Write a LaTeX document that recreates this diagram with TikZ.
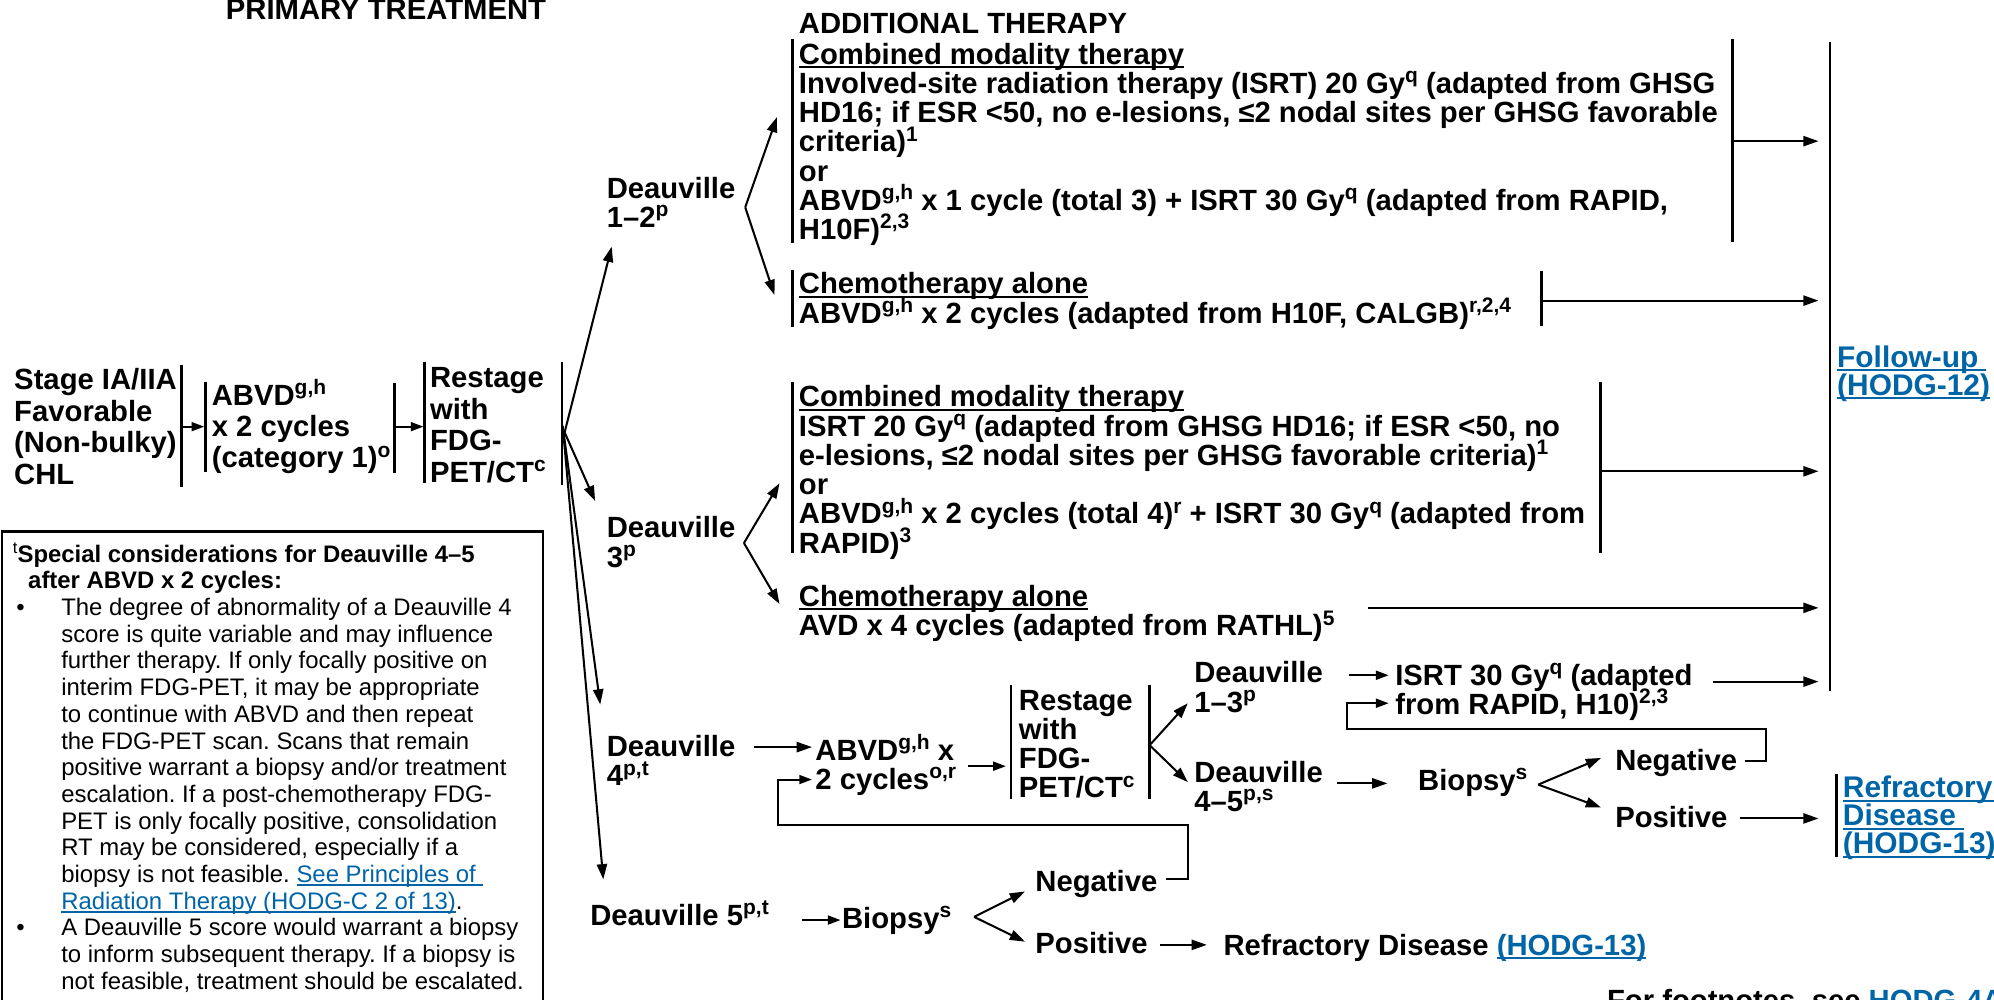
\documentclass[tikz,border=0pt]{standalone}
\usepackage{fontspec}
\setmainfont{Liberation Sans}
\usetikzlibrary{arrows.meta}
\definecolor{nccnblue}{RGB}{0,101,166}
\newcommand{\su}[1]{\raisebox{8.5pt}{\fontsize{16.5}{16.5}\selectfont #1}}
\newcommand{\sus}[1]{\raisebox{7pt}{\fontsize{13}{13}\selectfont #1}}
\newcommand{\undl}[1]{\setbox0\hbox{#1}\rlap{\rule[-3pt]{\wd0}{1.6pt}}\box0}
\newcommand{\lnk}[1]{{\color{nccnblue}\undl{#1}}}
\newcommand{\mfnt}{\fontsize{23}{23}\selectfont\bfseries\lineskiplimit=-100pt\relax}
\newcommand{\mfntw}{\fontsize{23}{24.7}\selectfont\bfseries\lineskiplimit=-100pt\relax}
\newcommand{\mfntr}{\fontsize{23.5}{22}\selectfont\bfseries\lineskiplimit=-100pt\relax}
\newcommand{\ffnt}{\fontsize{18.8}{21}\selectfont\lineskiplimit=-100pt\relax}
\newcommand{\ffntb}{\fontsize{18.8}{21}\selectfont\bfseries\lineskiplimit=-100pt\relax}
\frenchspacing
% multi-line nodes: the base anchor sits on the LAST line's baseline
\tikzset{
  txt/.style={anchor=base west, inner sep=0pt, align=left, font=\mfnt},
  txtw/.style={txt, font=\mfntw},
  fnt/.style={anchor=base west, inner sep=0pt, align=left, font=\ffnt},
  bar/.style={line width=2.2pt},
  con/.style={line width=1.6pt},
  arr/.style={con, -{Triangle[length=12pt,width=8pt]}},
  sarr/.style={con, -{Triangle[length=10pt,width=7pt]}},
}
\begin{document}
\begin{tikzpicture}[x=1pt,y=-1pt]
\useasboundingbox (0,0) rectangle (1568,786);
% ---------- headings ----------
\node[txt, anchor=base] (title) at (303.5,15.5) {PRIMARY TREATMENT};
\node[txt] (addl) at (628,26) {ADDITIONAL THERAPY};
% ---------- primary treatment ----------
\node[txtw] (stage) at (11,380.6) {Stage IA/IIA\\Favorable\\(Non-bulky)\\CHL};
\node[txtw] (abvd1) at (166.4,367.9) {ABVD\su{g,h}\\x 2 cycles\\(category 1)\su{o}};
\node[txtw] (rest1) at (338,379.1) {Restage\\with\\FDG-\\PET/CT\su{c}};
\draw[bar] (143,287) -- (143,383);
\draw[bar] (161.6,300) -- (161.6,371);
\draw[bar] (310.5,301) -- (310.5,372);
\draw[bar] (334,285) -- (334,380);
\draw[bar] (442,285) -- (442,381.5);
\coordinate (s1) at (143,335.5);   \coordinate (e1) at (160.6,335.5);
\coordinate (s2) at (310.5,335.5); \coordinate (e2) at (333,335.5);
\draw[sarr] (s1) -- (e1);
\draw[sarr] (s2) -- (e2);
% ---------- Deauville nodes ----------
\node[txt] (d12) at (477,179) {Deauville\\1–2\su{p}};
\node[txt] (d3) at (477,446) {Deauville\\3\su{p}};
\node[txt] (d4) at (477,618) {Deauville\\4\su{p,t}};
\node[txt] (d5) at (464,727.5) {Deauville 5\su{p,t}};
\coordinate (fanA) at (444,340);
\coordinate (fanB) at (442.5,335);
\coordinate (t12) at (481,194);
\coordinate (t3) at (468,394);
\coordinate (t4) at (472,554);
\coordinate (t5) at (474.4,691.5);
\draw[arr] (fanA) -- (t12);
\draw[arr] (fanA) -- (t3);
\draw[arr] (fanB) -- (t4);
\draw[arr] (fanB) -- (t5);
% ---------- Additional therapy, Deauville 1-2 ----------
\node[txt] (cmt1) at (628,188.5) {\undl{Combined modality therapy}\\Involved-site radiation therapy (ISRT) 20 Gy\su{q} (adapted from GHSG\\HD16; if ESR <50, no e-lesions, ≤2 nodal sites per GHSG favorable\\criteria)\su{1}\\or\\ABVD\su{g,h} x 1 cycle (total 3) + ISRT 30 Gy\su{q} (adapted from RAPID,\\H10F)\su{2,3}};
\node[txt] (chemo1) at (628,254) {\undl{Chemotherapy alone}\\ABVD\su{g,h} x 2 cycles (adapted from H10F, CALGB)\su{r,2,4}};
\draw[bar] (623,31) -- (623,191);
\draw[bar] (1362.6,31) -- (1362.6,190);
\draw[bar] (623,212) -- (623,257);
\draw[bar] (1212,213) -- (1212,256);
\coordinate (v12) at (586,163);
\coordinate (v12a) at (611,92);
\coordinate (v12b) at (609,232);
\draw[arr] (v12) -- (v12a);
\draw[arr] (v12) -- (v12b);
% ---------- Deauville 3 ----------
\node[txt] (cmt2) at (628,435) {\undl{Combined modality therapy}\\ISRT 20 Gy\su{q} (adapted from GHSG HD16; if ESR <50, no\\e-lesions, ≤2 nodal sites per GHSG favorable criteria)\su{1}\\or\\ABVD\su{g,h} x 2 cycles (total 4)\su{r} + ISRT 30 Gy\su{q} (adapted from\\RAPID)\su{3}};
\node[txt] (chemo2) at (628,500) {\undl{Chemotherapy alone}\\AVD x 4 cycles (adapted from RATHL)\su{5}};
\draw[bar] (623,300) -- (623,435);
\draw[bar] (1258.7,300) -- (1258.7,435);
\coordinate (v3) at (585,427);
\coordinate (v3a) at (613,380);
\coordinate (v3b) at (613,475);
\draw[arr] (v3) -- (v3a);
\draw[arr] (v3) -- (v3b);
% ---------- Follow-up ----------
\node[txt, font=\mfntr] (fu) at (1444.5,311) {\lnk{Follow-up\kern6pt}\\\lnk{(HODG-12)}};
\draw[bar] (1439,33) -- (1439,543);
\coordinate (f1s) at (1362.6,111) ; \coordinate (f1e) at (1430,111);
\coordinate (f2s) at (1212,236.4) ; \coordinate (f2e) at (1430,236.4);
\coordinate (f3s) at (1258.7,370.6); \coordinate (f3e) at (1430,370.6);
\coordinate (f4s) at (1076,478)   ; \coordinate (f4e) at (1430,478);
\coordinate (f5s) at (1347,536)   ; \coordinate (f5e) at (1430,536);
\draw[arr] (f1s) -- (f1e);
\draw[arr] (f2s) -- (f2e);
\draw[arr] (f3s) -- (f3e);
\draw[arr] (f4s) -- (f4e);
\draw[arr] (f5s) -- (f5e);
% ---------- Deauville 4 ----------
\node[txt] (abvd2) at (641,621) {ABVD\su{g,h} x\\2 cycles\su{o,r}};
\node[txt] (rest2) at (801,627.5) {Restage\\with\\FDG-\\PET/CT\su{c}};
\draw[bar] (795,538.6) -- (795,628);
\draw[bar] (904,538.6) -- (904,628);
\coordinate (a4s) at (593,587.5); \coordinate (a4e) at (638.5,587.5);
\draw[arr] (a4s) -- (a4e);
\coordinate (a5s) at (761,602.5); \coordinate (a5e) at (791,602.5);
\draw[sarr] (a5s) -- (a5e);
\node[txt] (d13) at (939,560) {Deauville\\1–3\su{p}};
\node[txt] (d45) at (939,638) {Deauville\\4–5\su{p,s}};
\coordinate (v4) at (904,586);
\coordinate (v4a) at (934,553);
\coordinate (v4b) at (934,615);
\draw[arr] (v4) -- (v4a);
\draw[arr] (v4) -- (v4b);
\node[txt] (isrt30) at (1097,562) {ISRT 30 Gy\su{q} (adapted\\from RAPID, H10)\su{2,3}};
\coordinate (a6s) at (1061,531); \coordinate (a6e) at (1092,531);
\draw[sarr] (a6s) -- (a6e);
\node[txt] (bx2) at (1115,621.5) {Biopsy\su{s}};
\coordinate (a7s) at (1051,616); \coordinate (a7e) at (1091,616);
\draw[arr] (a7s) -- (a7e);
\node[txt] (neg2) at (1270,605.5) {Negative};
\node[txt] (pos2) at (1270,651) {Positive};
\coordinate (v5) at (1209.6,617);
\coordinate (v5a) at (1259,596);
\coordinate (v5b) at (1259,635);
\draw[arr] (v5) -- (v5a);
\draw[arr] (v5) -- (v5b);
\coordinate (l2s) at (1372,598.6);
\coordinate (l2e) at (1092,553);
\draw[sarr] (l2s) -- (1389,598.6) -- (1389,573.5) -- (1059.5,573.5) -- (1059.5,553) -- (l2e);
\coordinate (a8s) at (1368,643.6); \coordinate (a8e) at (1430,643.6);
\draw[arr] (a8s) -- (a8e);
\node[txt, font=\mfntr] (refr2) at (1449,671.5) {\lnk{Refractory\kern6pt}\\\lnk{Disease\kern6pt}\\\lnk{(HODG-13)}};
\draw[bar] (1444,608.6) -- (1444,673.6);
% ---------- Deauville 5 ----------
\node[txt] (bx1) at (662,730) {Biopsy\su{s}};
\coordinate (a9s) at (631,723.5); \coordinate (a9e) at (661,723.5);
\draw[sarr] (a9s) -- (a9e);
\node[txt] (neg1) at (814,701) {Negative};
\node[txt] (pos1) at (814,750) {Positive};
\coordinate (v6) at (766,721);
\coordinate (v6a) at (806,701);
\coordinate (v6b) at (806,740.5);
\draw[arr] (v6) -- (v6a);
\draw[arr] (v6) -- (v6b);
\coordinate (l1s) at (917,691);
\coordinate (l1e) at (638.5,613);
\draw[sarr] (l1s) -- (934,691) -- (934,649) -- (612,649) -- (612,613) -- (l1e);
\node[txt] (refr1) at (962,751) {Refractory Disease \lnk{(HODG-13)}};
\coordinate (a10s) at (912,743); \coordinate (a10e) at (949,743);
\draw[arr] (a10s) -- (a10e);
% ---------- footnote reference ----------
\node[txt] (fnref) at (1263.5,795) {For footnotes, see \lnk{HODG-4A}};
% ---------- footnote box ----------
\draw[line width=2pt] (1.5,418) rectangle (427,820);
\node[fnt, font=\ffntb] (fnhead) at (10,463) {\sus{\mdseries t}Special considerations for Deauville 4–5\\\hspace*{12pt}after ABVD x 2 cycles:};
\node[fnt] (bul1) at (12.6,484) {•};
\node[fnt] (bul2) at (12.6,736) {•};
\node[fnt] (fnbody) at (48,778) {The degree of abnormality of a Deauville 4\\score is quite variable and may influence\\further therapy. If only focally positive on\\interim FDG-PET, it may be appropriate\\to continue with ABVD and then repeat\\the FDG-PET scan. Scans that remain\\positive warrant a biopsy and/or treatment\\escalation. If a post-chemotherapy FDG-\\PET is only focally positive, consolidation\\RT may be considered, especially if a\\biopsy is not feasible. \lnk{See Principles of }\\\lnk{Radiation Therapy (HODG-C 2 of 13)}.\\A Deauville 5 score would warrant a biopsy\\to inform subsequent therapy. If a biopsy is\\not feasible, treatment should be escalated.};
\end{tikzpicture}
\end{document}
